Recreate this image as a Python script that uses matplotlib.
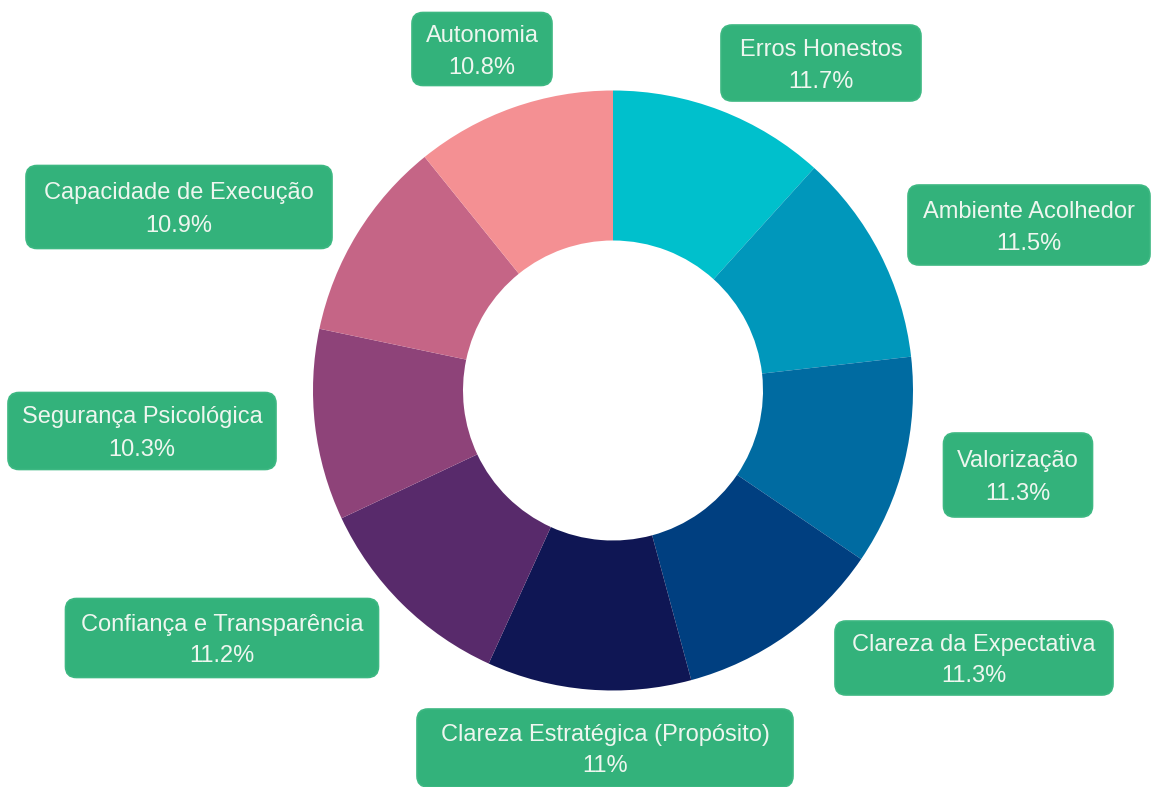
import matplotlib
matplotlib.use("Agg")
import matplotlib.pyplot as plt
from matplotlib.patches import FancyBboxPatch

# slices clockwise from 12 o'clock
labels = ["Erros Honestos", "Ambiente Acolhedor", "Valorização", "Clareza da Expectativa",
          "Clareza Estratégica (Propósito)", "Confiança e Transparência",
          "Segurança Psicológica", "Capacidade de Execução", "Autonomia"]
values = [11.7, 11.5, 11.3, 11.3, 11.0, 11.2, 10.3, 10.9, 10.8]
pct_text = ["11.7%", "11.5%", "11.3%", "11.3%", "11%", "11.2%", "10.3%", "10.9%", "10.8%"]
colors = ["#00C0CC", "#0097BB", "#006BA1", "#003F80", "#0F1654",
          "#582A6B", "#8E4379", "#C56586", "#F49093"]
# label boxes: centre x, centre y (px from top), width, height
boxes = [(821, 63, 200, 76), (1029, 225, 242, 80), (1018, 475, 149, 84),
         (974, 658, 278, 74), (605, 748, 376, 78), (222, 638, 313, 79),
         (142, 431, 268, 77), (179, 207, 306, 83), (482, 49, 140, 73)]

W, H = 1156, 787
BOX = "#33B27B"
TXT = "#EEF6EF"

fig = plt.figure(figsize=(W / 100, H / 100), dpi=100)
ax = fig.add_axes([0, 0, 1, 1])

ax.pie(values, colors=colors, startangle=90, counterclock=False,
       center=(613, H - 390.5), radius=300, frame=True,
       wedgeprops=dict(width=150, linewidth=0))
ax.set_xlim(0, W)
ax.set_ylim(0, H)
ax.set_aspect("equal")
ax.axis("off")

for lab, pt, (cx, cy, w, h) in zip(labels, pct_text, boxes):
    y = H - cy
    ax.add_patch(FancyBboxPatch((cx - w / 2 + 11, y - h / 2 + 11), w - 22, h - 22,
                                boxstyle="round,pad=11", fc=BOX, ec="#3DB882", lw=1.2,
                                mutation_aspect=1, clip_on=False))
    ax.text(cx, y + 7.5, lab, ha="center", va="baseline", fontsize=17,
            color=TXT, family="Liberation Sans")
    ax.text(cx, y - 24.5, pt, ha="center", va="baseline", fontsize=17,
            color=TXT, family="Liberation Sans")

fig.savefig("out.png", dpi=100)
